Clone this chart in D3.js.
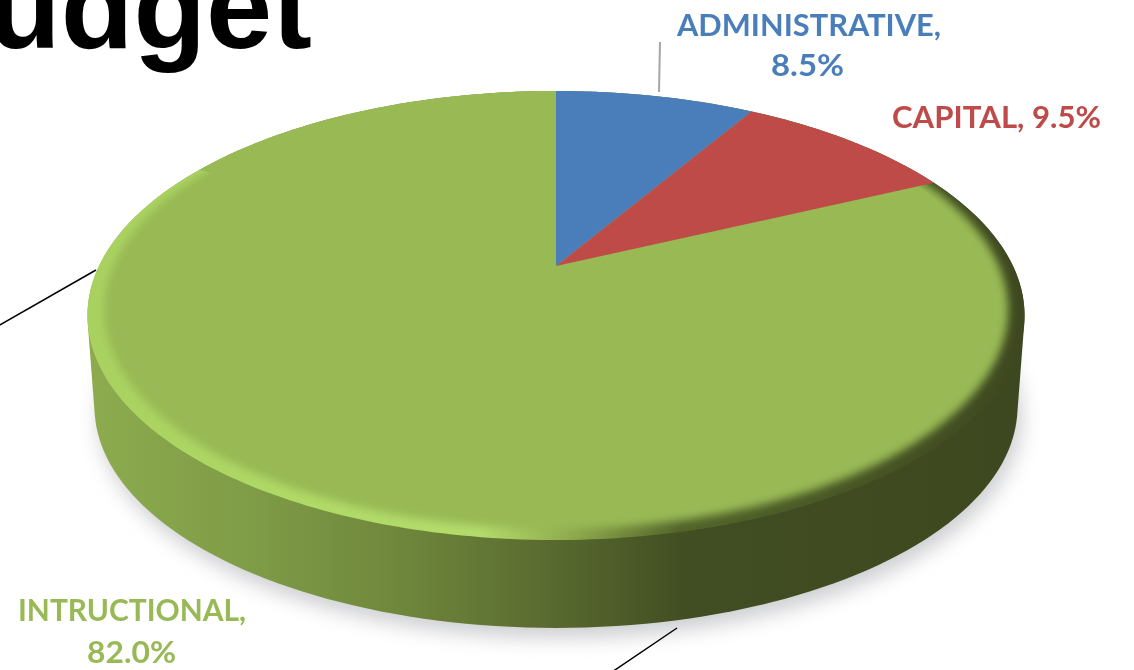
<!DOCTYPE html>
<html><head><meta charset="utf-8">
<script src="https://cdn.jsdelivr.net/npm/d3@7"></script>
<style>html,body{margin:0;padding:0;background:#fff;overflow:hidden}svg{display:block}</style>
</head><body><svg id="c" width="1134" height="670"></svg>
<script>
const categories = ["ADMINISTRATIVE", "CAPITAL", "INTRUCTIONAL"];
const values = [8.5, 9.5, 82.0];
const colors = ["#4a7ebb", "#be4b48", "#98b954"];
const titleText = "udget";

const svg = d3.select("#c");
const defs = svg.append("defs");

// perspective projection of the unit pie disc to the page
const apex = [556, 266], lens = 213.6, spanX = 457, tilt = 0.2205;
function project(a, r, k, dy) {
  const u = r * Math.sin(a), v = -r * Math.cos(a);
  const W = 1 - tilt * v;
  return [apex[0] + k * spanX * u / W, apex[1] + dy + k * lens * v / W];
}
const pie = d3.pie().sort(null).value(d => d)(values);
const line = d3.line();
const arcPts = (a0, a1, k, dy) => d3.range(0, 241).map(i => project(a0 + (a1 - a0) * i / 240, 1, k, dy));
const slicePath = (s) => line([project(0, 0, 1, 0), ...arcPts(s.startAngle, s.endAngle, 1, 0)]) + "Z";

const topRing = arcPts(0, 2 * Math.PI, 1, 0);
const baseRing = arcPts(0, 2 * Math.PI, 0.985, 92);
const topY = d3.min(topRing, p => p[1]);
const inset = (p, sx, sy) => [apex[0] + (p[0] - apex[0]) * sx, topY + (p[1] - topY) * sy];

function grad(id, stops) {
  const g = defs.append("linearGradient").attr("id", id)
    .attr("gradientUnits", "userSpaceOnUse").attr("x1", 88).attr("x2", 1024).attr("y1", 0).attr("y2", 0);
  stops.forEach(([x, c]) => g.append("stop").attr("offset", (x - 88) / 936).attr("stop-color", c));
}
grad("wall", [[88, "#8dab4e"], [250, "#7f9c47"], [400, "#6f873c"], [556, "#58692f"], [690, "#414d22"], [1024, "#3e4820"]]);
grad("rim", [[88, "#a9d160"], [300, "#b0d966"], [480, "#b4dc6c"], [580, "#8aa54a"], [680, "#52642a"], [1024, "#3e4820"]]);
defs.append("filter").attr("id", "bShadow").attr("x", "-10%").attr("y", "-10%").attr("width", "120%").attr("height", "120%")
  .append("feGaussianBlur").attr("stdDeviation", 10);
defs.append("filter").attr("id", "bBevel").attr("x", "-5%").attr("y", "-5%").attr("width", "110%").attr("height", "110%")
  .append("feGaussianBlur").attr("stdDeviation", 4);
defs.append("filter").attr("id", "bText").append("feGaussianBlur").attr("stdDeviation", 0.45);
defs.append("clipPath").attr("id", "topClip").append("path").attr("d", line(topRing) + "Z");

// title fragment
svg.append("text").text(titleText).attr("x", -12).attr("y", 48)
  .attr("font-family", "Liberation Sans").attr("font-weight", 700).attr("font-size", 119).attr("fill", "#000");

// shadow
svg.append("path").attr("d", line(baseRing.map(p => [p[0] + 4, p[1] + 10])) + "Z")
  .attr("fill", "#a4a6aa").attr("opacity", 0.55).attr("filter", "url(#bShadow)");

// wall
svg.append("path").attr("d", line(d3.polygonHull([...topRing, ...baseRing])) + "Z").attr("fill", "url(#wall)");

// bevel rim from the end of the red slice round to the upper left
const rimEnd = 2 * Math.PI * 300 / 360;
svg.append("path").attr("d", line(arcPts(pie[2].startAngle, rimEnd, 1, 0)) + "Z").attr("fill", "url(#rim)");
svg.append("g").attr("clip-path", "url(#topClip)").append("path")
  .attr("d", line(topRing.map(p => inset(p, 0.965, 0.975))) + "Z")
  .attr("fill", colors[2]).attr("filter", "url(#bBevel)");

// slices: green body first, then blue and red above it
const sliceG = svg.append("g");
sliceG.append("path").attr("d", line([apex, ...arcPts(pie[2].startAngle, pie[2].endAngle, 1, 0).map(p => inset(p, 0.93, 0.95))]) + "Z")
  .attr("fill", colors[2]);
sliceG.append("path").attr("d", line([apex, ...arcPts(rimEnd, pie[2].endAngle, 1, 0)]) + "Z")
  .attr("fill", colors[2]);
sliceG.selectAll("path.s").data(pie.slice(0, 2)).join("path").attr("class", "s")
  .attr("d", slicePath).attr("fill", (d, i) => colors[i]);

// leader lines
[[[660, 42], [659, 92], "#a6a6a6", 2], [[-2, 326], [96, 270], "#000", 1.5], [[612, 672], [677, 628], "#000", 1.5]]
  .forEach(([a, b, c, w]) => svg.append("line").attr("x1", a[0]).attr("y1", a[1]).attr("x2", b[0]).attr("y2", b[1])
    .attr("stroke", c).attr("stroke-width", w));

// labels
const labelRows = [
  [categories[0] + ",", 809, 36, 0, 264], [values[0].toFixed(1) + "%", 807.5, 76, 0, 73],
  [categories[1] + ", " + values[1].toFixed(1) + "%", 996.5, 128, 1, 209],
  [categories[2] + ",", 132, 621, 2, 228], [values[2].toFixed(1) + "%", 131.5, 663, 2, 89]
];
svg.selectAll("text.l").data(labelRows).join("text").attr("class", "l")
  .text(d => d[0]).attr("x", d => d[1]).attr("y", d => d[2]).attr("text-anchor", "middle")
  .attr("font-family", "Lato").attr("font-weight", 700).attr("font-size", 29.5)
  .attr("textLength", d => d[4]).attr("lengthAdjust", "spacingAndGlyphs")
  .attr("fill", d => colors[d[3]]).attr("filter", "url(#bText)");
</script></body></html>
